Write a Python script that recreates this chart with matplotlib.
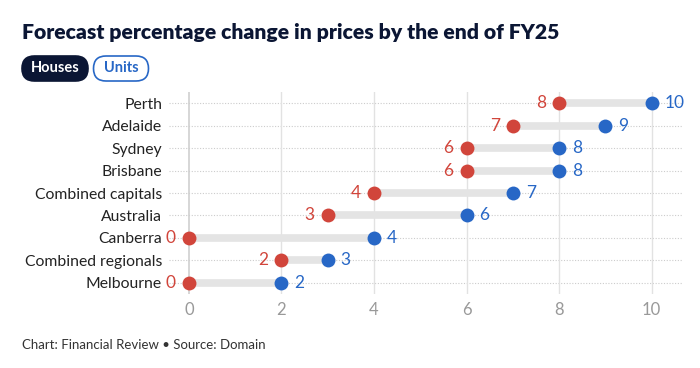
import matplotlib.pyplot as plt
from matplotlib.patches import FancyBboxPatch

plt.rcParams['font.family'] = ['Lato', 'DejaVu Sans']

cities = ["Perth", "Adelaide", "Sydney", "Brisbane", "Combined capitals",
          "Australia", "Canberra", "Combined regionals", "Melbourne"]
low = [8, 7, 6, 6, 4, 3, 0, 2, 0]
high = [10, 9, 8, 8, 7, 6, 4, 3, 2]
xticks = [0, 2, 4, 6, 8, 10]

red = "#d1453b"
blue = "#2767c6"
navy = "#0b1634"

fig = plt.figure(figsize=(7, 3.68), dpi=100)
ax = fig.add_axes([0.2414, 0.201, 0.7326, 0.549])

ys = list(range(len(cities)))[::-1]
for y, lo, hi in zip(ys, low, high):
    ax.plot([lo, hi], [y, y], color="#e4e4e4", lw=5.5, solid_capstyle="butt", zorder=2)
ax.scatter(low, ys, s=100, color=red, zorder=4, linewidths=0)
ax.scatter(high, ys, s=100, color=blue, zorder=4, linewidths=0)
for y, lo, hi in zip(ys, low, high):
    ax.text(lo - 0.28, y, str(lo), color=red, fontsize=12.5, ha="right", va="center")
    ax.text(hi + 0.28, y, str(hi), color=blue, fontsize=12.5, ha="left", va="center")

ax.set_xlim(-0.43, 10.65)
ax.set_ylim(-0.5, len(cities) - 0.5)
ax.set_yticks(ys)
ax.set_yticklabels(cities, fontsize=11.3, color="#222222")
ax.set_xticks(xticks)
ax.set_xticklabels([str(t) for t in xticks], fontsize=12, color="#999999")
ax.tick_params(length=0, pad=6)
ax.tick_params(axis="y", pad=5)
for s in ax.spines.values():
    s.set_visible(False)
for t in xticks:
    ax.axvline(t, color="#cfcfcf" if t == 0 else "#e2e2e2", lw=1.2 if t == 0 else 1, zorder=1)
for y in ys:
    ax.axhline(y, color="#cccccc", lw=0.8, ls=(0, (1, 1.5)), zorder=0)

fig.text(22 / 700, 1 - 33 / 368, "Forecast percentage change in prices by the end of FY25",
         fontsize=15.2, fontweight="heavy", color=navy, va="center", ha="left")

# toggle buttons, drawn in pixel coordinates
ov = fig.add_axes([0, 0, 1, 1], zorder=-1)
ov.set_xlim(0, 700)
ov.set_ylim(368, 0)
ov.axis("off")
ov.add_patch(FancyBboxPatch((22, 56), 66, 25, boxstyle="round,pad=0,rounding_size=12.5",
                            facecolor=navy, edgecolor=navy, lw=1.2))
ov.add_patch(FancyBboxPatch((93.5, 56), 55, 25, boxstyle="round,pad=0,rounding_size=12.5",
                            facecolor="white", edgecolor=blue, lw=1.2))
ov.text(55, 68.5, "Houses", fontsize=10.5, fontweight="bold", color="white",
        ha="center", va="center")
ov.text(121, 68.5, "Units", fontsize=10.5, fontweight="bold", color=blue,
        ha="center", va="center")

fig.text(22 / 700, 1 - 345 / 368, "Chart: Financial Review \u2022 Source: Domain",
         fontsize=9.5, color="#333333", va="center", ha="left")

fig.savefig("out.png", dpi=100, facecolor="white")
